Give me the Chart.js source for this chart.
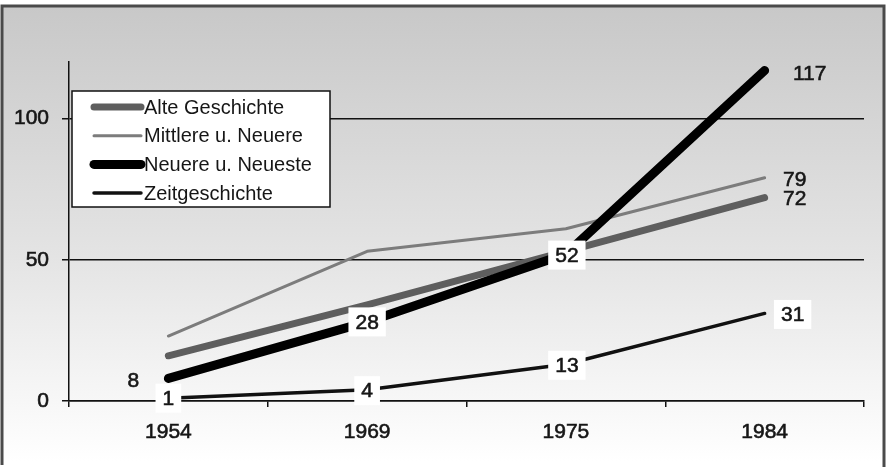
<!DOCTYPE html>
<html>
<head>
<meta charset="utf-8">
<script src="https://cdn.jsdelivr.net/npm/chart.js@4.4.1/dist/chart.umd.min.js"></script>
<style>
  html, body { margin: 0; padding: 0; background: #ffffff; }
  canvas { display: block; }
</style>
</head>
<body>
<canvas id="chart" width="887" height="471"></canvas>
<script>
// Categories and series values
const years = ['1954', '1969', '1975', '1984'];
const alteGeschichte = [16, 34, 53, 72];
const mittlereNeuere = [23, 53, 61, 79];
const neuereNeueste = [8, 28, 52, 117];
const zeitgeschichte = [1, 4, 13, 31];
const yTickValues = [0, 50, 100];
const seriesNames = ['Alte Geschichte', 'Mittlere u. Neuere', 'Neuere u. Neueste', 'Zeitgeschichte'];

const FONT = '"Liberation Sans", Arial, sans-serif';
const TEXT = '#161616';

// Panel: grey-to-white gradient inside a dark frame
const panelPlugin = {
  id: 'panel',
  beforeDraw(chart) {
    const ctx = chart.ctx;
    ctx.save();
    ctx.fillStyle = '#ffffff';
    ctx.fillRect(0, 0, chart.width, chart.height);
    const g = ctx.createLinearGradient(0, 6, 0, 462);
    g.addColorStop(0, '#c8c8c8');
    g.addColorStop(0.55, '#e4e4e4');
    g.addColorStop(1, '#ffffff');
    ctx.fillStyle = g;
    ctx.fillRect(2, 6, 882, 458);
    ctx.strokeStyle = '#4a4a4a';
    ctx.lineWidth = 3;
    ctx.beginPath();
    ctx.moveTo(2, 465);
    ctx.lineTo(2, 6);
    ctx.lineTo(884, 6);
    ctx.lineTo(884, 467);
    ctx.stroke();
    ctx.restore();
  }
};

// Slightly heavier text for the numeric labels
function heavyText(ctx, text, x, y) {
  ctx.lineWidth = 0.6;
  ctx.strokeStyle = TEXT;
  ctx.strokeText(text, x, y);
  ctx.fillText(text, x, y);
}

// Value labels next to selected points, optionally on a white box
const valueLabelPlugin = {
  id: 'valueLabels',
  afterDatasetsDraw(chart) {
    const ctx = chart.ctx;
    ctx.save();
    ctx.font = '21px ' + FONT;
    ctx.textAlign = 'center';
    ctx.textBaseline = 'middle';
    chart.data.datasets.forEach((ds, di) => {
      const meta = chart.getDatasetMeta(di);
      (ds.valueLabels || []).forEach(lb => {
        const pt = meta.data[lb.index];
        const text = String(ds.data[lb.index]);
        const x = pt.x + lb.dx;
        const y = pt.y + lb.dy;
        if (lb.box) {
          const w = ctx.measureText(text).width + 14;
          const h = 29;
          ctx.fillStyle = '#ffffff';
          ctx.fillRect(x - w / 2, y - h / 2, w, h);
        }
        ctx.fillStyle = TEXT;
        heavyText(ctx, text, x, y + 1);
      });
    });
    ctx.restore();
  }
};

// Legend box inside the plot area
const legendBoxPlugin = {
  id: 'legendBox',
  afterDraw(chart) {
    const ctx = chart.ctx;
    ctx.save();
    ctx.fillStyle = '#ffffff';
    ctx.fillRect(72, 91, 258, 116);
    ctx.strokeStyle = '#111111';
    ctx.lineWidth = 1.5;
    ctx.strokeRect(72, 91, 258, 116);
    ctx.font = '20px ' + FONT;
    ctx.textBaseline = 'middle';
    ctx.textAlign = 'left';
    chart.data.datasets.forEach((ds, i) => {
      const y = 107 + i * 28.7;
      ctx.strokeStyle = ds.borderColor;
      ctx.lineWidth = ds.borderWidth;
      ctx.lineCap = 'round';
      ctx.beginPath();
      ctx.moveTo(94, y);
      ctx.lineTo(141, y);
      ctx.stroke();
      ctx.fillStyle = TEXT;
      ctx.fillText(ds.label, 144, y + 1);
    });
    ctx.restore();
  }
};

// Axis tick labels: drawn by the scales, then thickened a little
const tickWeightPlugin = {
  id: 'tickWeight',
  afterDraw(chart) {
    const ctx = chart.ctx;
    ctx.save();
    ctx.strokeStyle = TEXT;
    ctx.lineWidth = 0.6;
    ['x', 'y'].forEach(id => {
      const s = chart.scales[id];
      s.getLabelItems().forEach(item => {
        const o = item.options;
        ctx.font = item.font.string;
        ctx.textAlign = o.textAlign;
        ctx.textBaseline = o.textBaseline;
        ctx.strokeText(item.label, o.translation[0], o.translation[1] + (item.textOffset || 0));
      });
    });
    ctx.restore();
  }
};

new Chart(document.getElementById('chart'), {
  type: 'line',
  data: {
    labels: years,
    datasets: [
      {
        label: seriesNames[0], data: alteGeschichte,
        borderColor: '#5e5e5e', borderWidth: 7, order: 2,
        valueLabels: [{ index: 3, dx: 30, dy: 1, box: false }]
      },
      {
        label: seriesNames[1], data: mittlereNeuere,
        borderColor: '#7c7c7c', borderWidth: 3, order: 3,
        valueLabels: [{ index: 3, dx: 30, dy: 1, box: false }]
      },
      {
        label: seriesNames[2], data: neuereNeueste,
        borderColor: '#000000', borderWidth: 9, order: 0,
        valueLabels: [
          { index: 0, dx: -35, dy: 2, box: false },
          { index: 1, dx: 0, dy: 0, box: true },
          { index: 2, dx: 1, dy: 1, box: true },
          { index: 3, dx: 45, dy: 3, box: false }
        ]
      },
      {
        label: seriesNames[3], data: zeitgeschichte,
        borderColor: '#111111', borderWidth: 3.5, order: 1,
        valueLabels: [
          { index: 0, dx: 0, dy: 0, box: true },
          { index: 1, dx: 0, dy: 1, box: true },
          { index: 2, dx: 1, dy: 1, box: true },
          { index: 3, dx: 28, dy: 1, box: true }
        ]
      }
    ]
  },
  options: {
    responsive: false,
    animation: false,
    layout: { padding: { left: 0, top: 62, right: 23, bottom: 0 } },
    plugins: { legend: { display: false }, tooltip: { enabled: false } },
    elements: {
      point: { radius: 0, hoverRadius: 0 },
      line: { tension: 0, borderCapStyle: 'round', borderJoinStyle: 'round' }
    },
    scales: {
      x: {
        type: 'category',
        offset: true,
        grid: { offset: true, drawOnChartArea: false, drawTicks: true, tickLength: 6, color: '#111111', lineWidth: 1.5 },
        border: { display: true, color: '#111111', width: 1.5 },
        ticks: { font: { family: FONT, size: 21 }, color: TEXT, padding: 13, maxRotation: 0 },
        afterFit(scale) { scale.height = 70; }
      },
      y: {
        min: 0,
        max: 120,
        afterBuildTicks(scale) { scale.ticks = yTickValues.map(v => ({ value: v })); },
        grid: { color: '#111111', lineWidth: 1.5, tickLength: 7, drawTicks: true },
        border: { display: true, color: '#111111', width: 1.5 },
        ticks: { font: { family: FONT, size: 21 }, color: TEXT, padding: 13 },
        afterFit(scale) { scale.width = 69; }
      }
    }
  },
  plugins: [panelPlugin, valueLabelPlugin, legendBoxPlugin, tickWeightPlugin]
});
</script>
</body>
</html>
